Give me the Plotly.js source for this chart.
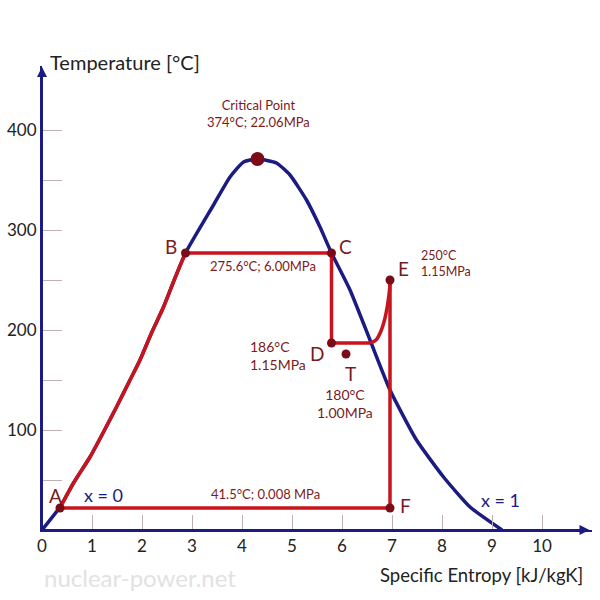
<!DOCTYPE html>
<html>
<head>
<meta charset="utf-8">
<script src="https://cdn.plot.ly/plotly-3.0.1.min.js"></script>
<style>html,body{margin:0;padding:0;background:#fff}#chart{width:600px;height:600px}</style>
</head>
<body>
<div id="chart"></div>
<script>
// Saturation dome (blue)
const domeS = [0, 0.36, 0.63, 0.96, 1.23, 1.49, 1.73, 1.96, 2.19, 2.43, 2.66, 2.87, 3.43, 3.76, 4.03, 4.31, 4.69, 4.96, 5.29, 5.56, 5.79, 6.16, 6.56, 6.96, 7.49, 8.03, 8.56, 9.2];
const domeT = [0, 23, 47, 73, 98, 123, 147, 170, 197, 223, 252, 277, 325, 353, 368, 371, 367, 355, 330, 303, 277, 240, 190, 140, 90, 53, 23, 0];
// Rankine cycle with reheat (red)
// A -> B (liquid heating)
const heatS = [0.36, 0.63, 0.96, 1.23, 1.49, 1.73, 1.96, 2.19, 2.43, 2.66, 2.87];
const heatT = [22, 47, 73, 98, 123, 147, 170, 197, 223, 252, 277];
// B -> C -> D -> start of reheat
const boilS = [2.87, 5.79, 5.79, 6.56];
const boilT = [277, 277, 187, 187];
// reheat curve up to E
const reheatS = [6.56, 6.68, 6.78, 6.86, 6.92, 6.95, 6.96];
const reheatT = [187, 190, 199, 212, 228, 240, 250];
// E -> F -> A
const expandS = [6.96, 6.96, 0.36];
const expandT = [250, 22, 22];
// State points
const pointNames = ["A", "B", "C", "D", "E", "F", "T"];
const pointS = [0.36, 2.87, 5.79, 5.79, 6.96, 6.96, 6.08];
const pointT = [22, 277, 277, 187, 250, 22, 176];
const criticalS = [4.31];
const criticalT = [371];
// Axis ticks
const xTickVals = [0, 1, 2, 3, 4, 5, 6, 7, 8, 9, 10];
const xTickText = ["0", "1", "2", "3", "4", "5", "6", "7", "8", "9", "10"];
const yTickVals = [50, 100, 150, 200, 250, 300, 350, 400];
const yTickText = ["", "100", "", "200", "", "300", "", "400"];

const FONT = "Lato, 'Open Sans', sans-serif";
const NAVY = "#1b1b82";
const RED = "#c8141c";
const DARK = "#7a0c18";
const LBL = "#7a1a22";

function redLine(x, y, smooth) {
  return {x: x, y: y, mode: "lines", hoverinfo: "skip", cliponaxis: false,
    line: smooth ? {color: RED, width: 3.5, shape: "spline", smoothing: 0.8} : {color: RED, width: 3.5}};
}

const traces = [
  {x: domeS, y: domeT, mode: "lines", line: {color: NAVY, width: 3.5, shape: "spline", smoothing: 0.5}, hoverinfo: "skip", cliponaxis: false},
  redLine(heatS, heatT, true),
  redLine(boilS, boilT, false),
  redLine(reheatS, reheatT, true),
  redLine(expandS, expandT, false),
  {x: pointS, y: pointT, mode: "markers", marker: {color: DARK, size: 9}, text: pointNames, cliponaxis: false},
  {x: criticalS, y: criticalT, mode: "markers", marker: {color: DARK, size: 14}, cliponaxis: false}
];

function lab(x, y, text, opts) {
  return Object.assign({x: x, y: y, xref: "x", yref: "y", text: text, showarrow: false,
    font: {family: FONT, size: 12.5, color: LBL}}, opts || {});
}
const big = {family: FONT, size: 19, color: LBL};
const mid = {family: FONT, size: 14, color: LBL};

const annotations = [
  // axis arrows
  {x: 10.95, y: 0, ax: 0, ay: 0, xref: "x", yref: "y", axref: "x", ayref: "y", text: "", showarrow: true, arrowhead: 2, arrowsize: 1, arrowwidth: 2, arrowcolor: NAVY},
  {x: 0, y: 463, ax: 0, ay: 0, xref: "x", yref: "y", axref: "x", ayref: "y", text: "", showarrow: true, arrowhead: 2, arrowsize: 1, arrowwidth: 2, arrowcolor: NAVY},
  lab(4.32, 417, "Critical Point<br>374°C; 22.06MPa", {font: {family: FONT, size: 13, color: LBL}}),
  lab(2.58, 284, "B", {font: big}),
  lab(6.06, 284, "C", {font: big}),
  lab(7.22, 262, "E", {font: big}),
  lab(7.54, 267, "250°C<br>1.15MPa", {xanchor: "left", align: "left"}),
  lab(4.42, 264, "275.6°C; 6.00MPa", {font: {family: FONT, size: 13, color: LBL}}),
  lab(4.12, 175, "186°C<br>1.15MPa", {xanchor: "left", align: "left", font: mid}),
  lab(5.5, 177, "D", {font: big}),
  lab(6.16, 157, "T", {font: big}),
  lab(6.06, 127, "180°C<br>1.00MPa", {font: mid}),
  lab(0.26, 35, "A", {font: big}),
  lab(1.22, 35, "x = 0", {font: {family: FONT, size: 18, color: NAVY}}),
  lab(4.46, 36, "41.5°C; 0.008 MPa", {font: {family: FONT, size: 13, color: LBL}}),
  lab(7.26, 25, "F", {font: big}),
  lab(9.16, 30, "x = 1", {font: {family: FONT, size: 18, color: NAVY}}),
  {x: 0.011, y: 1.0086, xref: "paper", yref: "paper", xanchor: "left", yanchor: "middle", showarrow: false,
   text: "Temperature [°C]", font: {family: FONT, size: 20, color: "#222"}},
  {x: 0.987, y: -0.097, xref: "paper", yref: "paper", xanchor: "right", yanchor: "middle", showarrow: false,
   text: "Specific Entropy [kJ/kgK]", font: {family: FONT, size: 18.5, color: "#222"}},
  {x: 0, y: -0.103, xref: "paper", yref: "paper", xanchor: "left", yanchor: "middle", showarrow: false,
   text: "nuclear-power.net", font: {family: FONT, size: 24, color: "#e2e2e2"}}
];

const layout = {
  width: 600, height: 600,
  margin: {l: 42, r: 8, t: 66, b: 70},
  paper_bgcolor: "#fff", plot_bgcolor: "#fff",
  showlegend: false,
  xaxis: {range: [0, 11], tickvals: xTickVals, ticktext: xTickText, ticks: "inside", ticklen: 15, tickwidth: 1, tickcolor: "#bfb0b0",
    showgrid: false, zeroline: false, showline: true, linecolor: NAVY, linewidth: 2,
    tickfont: {family: FONT, size: 17, color: "#222"}, fixedrange: true},
  yaxis: {range: [0, 464], tickvals: yTickVals, ticktext: yTickText, ticks: "inside", ticklen: 20, tickwidth: 1, tickcolor: "#bfb0b0",
    showgrid: false, zeroline: false, showline: true, linecolor: NAVY, linewidth: 2,
    tickfont: {family: FONT, size: 17, color: "#222"}, fixedrange: true},
  annotations: annotations
};

Plotly.newPlot("chart", traces, layout, {staticPlot: true, displayModeBar: false});
</script>
</body>
</html>
